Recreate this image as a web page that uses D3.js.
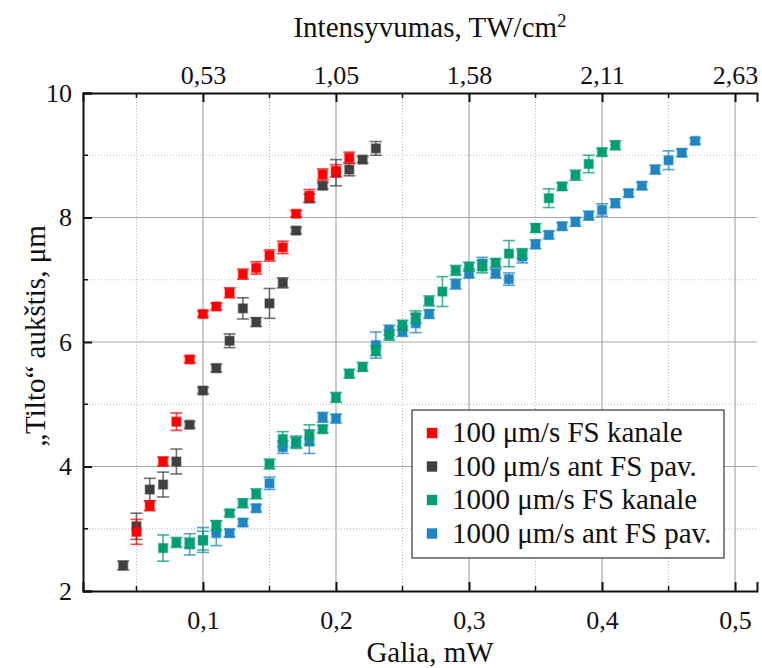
<!DOCTYPE html>
<html>
<head>
<meta charset="UTF-8">
<script src="https://d3js.org/d3.v7.min.js"></script>
<style>
  body { margin: 0; background: #fff; }
  svg, svg text, svg tspan { font-family: 'Liberation Serif', 'Times New Roman', serif; }
</style>
</head>
<body>
<script>
  // Power values (mW) are shared per series, heights in um, error half-widths in um
  var redX = [0.05,0.06,0.07,0.08,0.09,0.10,0.11,0.12,0.13,0.14,0.15,0.16,0.17,0.18,0.19,0.20,0.21];
  var redY = [2.95,3.37,4.08,4.72,5.72,6.45,6.57,6.79,7.09,7.19,7.39,7.52,8.06,8.35,8.69,8.75,8.96];
  var redE = [0.20,0.08,0.07,0.14,0.05,0.05,0.05,0.08,0.08,0.10,0.09,0.10,0.05,0.10,0.09,0.10,0.09];

  var grayX = [0.04,0.05,0.06,0.07,0.08,0.09,0.10,0.11,0.12,0.13,0.14,0.15,0.16,0.17,0.18,0.19,0.20,0.21,0.22,0.23];
  var grayY = [2.41,3.04,3.63,3.71,4.08,4.67,5.22,5.58,6.02,6.54,6.32,6.62,6.95,7.79,8.31,8.51,8.72,8.77,8.93,9.11];
  var grayE = [0.07,0.21,0.18,0.20,0.20,0.05,0.05,0.06,0.11,0.17,0.07,0.24,0.08,0.05,0.07,0.05,0.21,0.10,0.05,0.11];

  var greenX = [0.07,0.08,0.09,0.10,0.11,0.12,0.13,0.14,0.15,0.16,0.17,0.18,0.19,0.20,0.21,0.22,0.23,0.24,
                0.25,0.26,0.27,0.28,0.29,0.30,0.31,0.32,0.33,0.34,0.35,0.36,0.37,0.38,0.39,0.40,0.41];
  var greenY = [2.69,2.78,2.77,2.81,3.05,3.25,3.41,3.56,4.04,4.44,4.39,4.51,4.60,5.11,5.49,5.60,5.86,6.11,
                6.27,6.40,6.66,6.81,7.15,7.21,7.21,7.27,7.42,7.42,7.83,8.31,8.50,8.68,8.86,9.05,9.16];
  var greenE = [0.21,0.08,0.08,0.15,0.08,0.05,0.07,0.08,0.08,0.12,0.10,0.16,0.06,0.08,0.07,0.07,0.08,0.08,
                0.08,0.10,0.08,0.24,0.08,0.07,0.10,0.07,0.21,0.08,0.07,0.15,0.06,0.08,0.14,0.06,0.07];

  var blueX = [0.09,0.10,0.11,0.12,0.13,0.14,0.15,0.16,0.17,0.18,0.19,0.20,0.23,0.24,0.25,0.26,0.27,0.29,
               0.30,0.31,0.32,0.33,0.34,0.35,0.36,0.37,0.38,0.39,0.40,0.41,0.42,0.43,0.44,0.45,0.46,0.47];
  var blueY = [2.75,2.82,2.93,2.93,3.10,3.33,3.73,4.31,4.39,4.40,4.79,4.77,5.95,6.19,6.17,6.30,6.45,6.93,
               7.10,7.26,7.10,7.01,7.37,7.57,7.72,7.86,7.93,8.03,8.12,8.23,8.39,8.51,8.77,8.92,9.04,9.23];
  var blueE = [0.17,0.20,0.20,0.06,0.06,0.06,0.10,0.10,0.08,0.19,0.08,0.07,0.21,0.08,0.08,0.15,0.07,0.08,
               0.07,0.10,0.07,0.10,0.10,0.07,0.06,0.06,0.07,0.07,0.10,0.07,0.06,0.06,0.07,0.15,0.06,0.05];

  var seriesNames = ["100 μm/s FS kanale", "100 μm/s ant FS pav.", "1000 μm/s FS kanale", "1000 μm/s ant FS pav."];
  var seriesColors = ["#ff0000", "#404040", "#009e73", "#1f86c3"];

  var xTicks = [0.1, 0.2, 0.3, 0.4, 0.5];
  var xTickLabels = ["0,1", "0,2", "0,3", "0,4", "0,5"];
  var topTickLabels = ["0,53", "1,05", "1,58", "2,11", "2,63"];
  var yTicks = [2, 4, 6, 8, 10];

  var series = [
    { name: seriesNames[0], color: seriesColors[0], x: redX, y: redY, e: redE },
    { name: seriesNames[1], color: seriesColors[1], x: grayX, y: grayY, e: grayE },
    { name: seriesNames[2], color: seriesColors[2], x: greenX, y: greenY, e: greenE },
    { name: seriesNames[3], color: seriesColors[3], x: blueX, y: blueY, e: blueE }
  ];

  var W = 762, H = 668;
  var pLeft = 83, pRight = 757, pTop = 93, pBottom = 591;

  var svg = d3.select("body").append("svg").attr("width", W).attr("height", H)
    .attr("font-family", "Liberation Serif");

  var x = d3.scaleLinear().domain([0.0098, 0.5165]).range([pLeft, pRight]);
  var y = d3.scaleLinear().domain([2, 10]).range([pBottom, pTop]);

  var minorX = [0.05, 0.15, 0.25, 0.35, 0.45];
  var minorY = [3, 5, 7, 9];

  function serif(sel, size) {
    return sel.attr("font-family", "Liberation Serif")
      .style("font-family", "'Liberation Serif'").style("font-size", size + "px");
  }

  // grid
  var grid = svg.append("g");
  grid.selectAll(".gxm").data(minorX).enter().append("line")
    .attr("x1", d => x(d)).attr("x2", d => x(d)).attr("y1", pTop).attr("y2", pBottom)
    .attr("stroke", "#bdbdbd").attr("stroke-dasharray", "1,2");
  grid.selectAll(".gym").data(minorY).enter().append("line")
    .attr("x1", pLeft).attr("x2", pRight).attr("y1", d => y(d)).attr("y2", d => y(d))
    .attr("stroke", "#bdbdbd").attr("stroke-dasharray", "1,2");
  grid.selectAll(".gx").data(xTicks).enter().append("line")
    .attr("x1", d => x(d)).attr("x2", d => x(d)).attr("y1", pTop).attr("y2", pBottom)
    .attr("stroke", "#a8a8a8").attr("stroke-width", 1.2);
  grid.selectAll(".gy").data([4, 6, 8]).enter().append("line")
    .attr("x1", pLeft).attr("x2", pRight).attr("y1", d => y(d)).attr("y2", d => y(d))
    .attr("stroke", "#a8a8a8").attr("stroke-width", 1.2);

  // axes (ticks pointing inward)
  var xBottom = d3.axisBottom(x).tickValues(xTicks).tickSize(-9).tickFormat((d, i) => xTickLabels[i]);
  var xTop = d3.axisTop(x).tickValues(xTicks).tickSize(-9).tickFormat((d, i) => topTickLabels[i]);
  var yLeft = d3.axisLeft(y).tickValues(yTicks).tickSize(-9).tickFormat(d3.format("d"));

  function styleAxis(g) {
    g.attr("font-family", "Liberation Serif").attr("font-size", 26);
    g.select(".domain").attr("stroke", "#111").attr("stroke-width", 2);
    g.selectAll(".tick line").attr("stroke", "#111").attr("stroke-width", 2);
    serif(g.selectAll(".tick text"), 26).attr("fill", "#111");
  }

  svg.append("g").attr("transform", "translate(0," + pBottom + ")").call(xBottom)
    .call(styleAxis).call(g => g.selectAll(".tick text").attr("dy", "0.71em").attr("y", 20));
  svg.append("g").attr("transform", "translate(0," + pTop + ")").call(xTop)
    .call(styleAxis).call(g => g.selectAll(".tick text").attr("y", -9));
  svg.append("g").attr("transform", "translate(" + pLeft + ",0)").call(yLeft)
    .call(styleAxis).call(g => g.selectAll(".tick text").attr("x", -11));

  // minor ticks
  var mt = svg.append("g").attr("stroke", "#111").attr("stroke-width", 1.5);
  mt.selectAll(".mb").data(minorX).enter().append("line")
    .attr("x1", d => x(d)).attr("x2", d => x(d)).attr("y1", pBottom).attr("y2", pBottom - 5);
  mt.selectAll(".mt").data(minorX).enter().append("line")
    .attr("x1", d => x(d)).attr("x2", d => x(d)).attr("y1", pTop).attr("y2", pTop + 5);
  mt.selectAll(".ml").data(minorY).enter().append("line")
    .attr("x1", pLeft).attr("x2", pLeft + 5).attr("y1", d => y(d)).attr("y2", d => y(d));

  // data: draw last legend entry first
  var plot = svg.append("g");
  series.slice().reverse().forEach(function (s) {
    var pts = s.x.map((v, i) => ({ x: v, y: s.y[i], e: s.e[i] }));
    var g = plot.append("g");
    var eb = g.selectAll(".eb").data(pts).enter().append("g")
      .attr("stroke", s.color).attr("stroke-opacity", 0.75).attr("stroke-width", 1.6);
    eb.append("line").attr("x1", d => x(d.x)).attr("x2", d => x(d.x))
      .attr("y1", d => y(d.y - d.e)).attr("y2", d => y(d.y + d.e));
    eb.append("line").attr("x1", d => x(d.x) - 6).attr("x2", d => x(d.x) + 6)
      .attr("y1", d => y(d.y - d.e)).attr("y2", d => y(d.y - d.e));
    eb.append("line").attr("x1", d => x(d.x) - 6).attr("x2", d => x(d.x) + 6)
      .attr("y1", d => y(d.y + d.e)).attr("y2", d => y(d.y + d.e));
    g.selectAll("rect").data(pts).enter().append("rect")
      .attr("x", d => x(d.x) - 4.5).attr("y", d => y(d.y) - 4.5)
      .attr("width", 9).attr("height", 9)
      .attr("fill", s.color)
      .attr("stroke", s.color).attr("stroke-opacity", 0.45).attr("stroke-width", 1.5);
  });

  // axis titles
  var title = serif(svg.append("text"), 29).attr("x", 430).attr("y", 37)
    .attr("text-anchor", "middle").attr("fill", "#111");
  title.append("tspan").text("Intensyvumas, TW/cm");
  title.append("tspan").text("2").style("font-size", "19px").attr("dy", "-10");

  serif(svg.append("text"), 29).attr("x", 430).attr("y", 662).attr("text-anchor", "middle")
    .attr("fill", "#111").text("Galia, mW");

  serif(svg.append("text"), 29).attr("transform", "translate(45,336) rotate(-90)")
    .attr("text-anchor", "middle").attr("fill", "#111").text("„Tilto“ aukštis, μm");

  // legend
  var lg = svg.append("g").attr("transform", "translate(412,410)");
  lg.append("rect").attr("width", 312).attr("height", 148)
    .attr("fill", "#fff").attr("stroke", "#333").attr("stroke-width", 1.2);
  var items = lg.selectAll(".li").data(series).enter().append("g")
    .attr("transform", (d, i) => "translate(0," + (23 + i * 33.5) + ")");
  items.append("rect").attr("x", 15).attr("y", -5).attr("width", 10).attr("height", 10)
    .attr("fill", d => d.color).attr("stroke", d => d.color).attr("stroke-opacity", 0.4);
  serif(items.append("text"), 29).attr("x", 40).attr("y", 9).attr("fill", "#111").text(d => d.name);
</script>
</body>
</html>
